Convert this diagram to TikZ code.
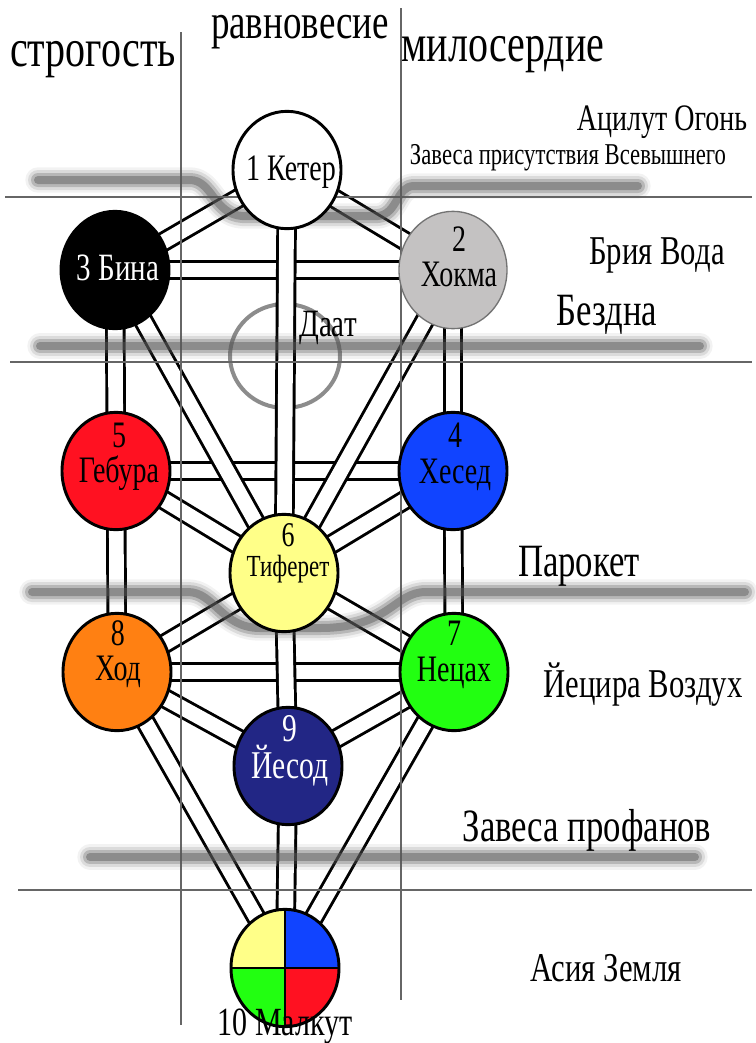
\documentclass[tikz,border=0pt]{standalone}
\usepackage{fontspec}
\setmainfont{Liberation Serif}[FakeStretch=0.75]
\usetikzlibrary{shapes.geometric}
\definecolor{sefgray}{HTML}{C4C2C2}
\definecolor{sefred}{HTML}{FF1121}
\definecolor{sefblue}{HTML}{1144FF}
\definecolor{sefyellow}{HTML}{FFFF88}
\definecolor{seforange}{HTML}{FF8012}
\definecolor{sefgreen}{HTML}{22FF11}
\definecolor{sefnavy}{HTML}{222685}
\pgfdeclarelayer{bg}
\pgfsetlayers{bg,main}
\newcommand{\fsz}[1]{\fontsize{#1}{0.95\dimexpr#1pt\relax}\selectfont}
\newcommand{\veilline}[1]{\foreach \w/\o in {19/0.08,15/0.15,10.5/0.28,6/0.45}{\draw[veil,line width=\w pt,opacity=\o] #1;}}
\tikzset{
    sefira/.style={ellipse,draw=black,line width=2.2pt,minimum width=81pt,minimum height=88pt,inner sep=0pt},
    pathway/.style={draw=black,line width=2.2pt,double=white,double distance=11pt},
    divider/.style={draw=black!60,line width=0.8pt},
    veil/.style={draw=black!65,line cap=round,line join=round},
    lbl/.style={inner sep=0pt,align=center},
}
\begin{document}
\begin{tikzpicture}[x=0.75pt,y=-0.75pt]
    \useasboundingbox (0,0) rectangle (756,1043);
    % sefirot
    \node[sefira,fill=white] (keter) at (287,170) {};
    \node[sefira,fill=black] (bina) at (115,270) {};
    \node[sefira,fill=sefgray,draw=black!55,line width=1pt] (chokmah) at (453,270) {};
    \node[sefira,fill=sefred] (geburah) at (116,471) {};
    \node[sefira,fill=sefblue] (chesed) at (453,471) {};
    \node[sefira,fill=sefyellow] (tiferet) at (284,573) {};
    \node[sefira,fill=seforange] (hod) at (117,672) {};
    \node[sefira,fill=sefgreen] (netzach) at (454,672) {};
    \node[sefira,fill=sefnavy] (yesod) at (288,766) {};
    \node[sefira,path picture={
        \fill[sefyellow] (path picture bounding box.north west) rectangle (path picture bounding box.center);
        \fill[sefblue] (path picture bounding box.north east) rectangle (path picture bounding box.center);
        \fill[sefgreen] (path picture bounding box.south west) rectangle (path picture bounding box.center);
        \fill[sefred] (path picture bounding box.south east) rectangle (path picture bounding box.center);
        \draw[line width=2.2pt] (path picture bounding box.north) -- (path picture bounding box.south)
            (path picture bounding box.west) -- (path picture bounding box.east);
    }] (malkut) at (285,968) {};

    \begin{pgfonlayer}{bg}
        \draw[draw=black!45,line width=3pt] (285,356) ellipse [x radius=55, y radius=52];
        % paths
        \foreach \a/\b in {bina/chokmah,geburah/chesed,hod/netzach,
                bina/geburah,geburah/hod,chokmah/chesed,chesed/netzach,
                keter/bina,keter/chokmah,bina/tiferet,chokmah/tiferet,
                geburah/tiferet,chesed/tiferet,tiferet/hod,tiferet/netzach,
                hod/yesod,netzach/yesod,hod/malkut,netzach/malkut,
                keter/tiferet,tiferet/yesod,yesod/malkut}
            \draw[pathway] (\a.center) -- (\b.center);
        % pillars and worlds
        \draw[divider] (181,32) -- (181,1025);
        \draw[divider] (401,8) -- (401,1000);
        \draw[divider] (5,197) -- (752,197);
        \draw[divider] (10,362) -- (752,362);
        \draw[divider] (18,890) -- (752,890);
        % veils
        \veilline{(38,180) -- (190,180) .. controls (212,180) and (214,214) .. (242,216) -- (378,216) .. controls (398,214) and (396,186) .. (414,186) -- (638,186)}
        \veilline{(40,346) -- (700,346)}
        \veilline{(32,592) -- (188,592) .. controls (214,592) and (222,628) .. (260,628) -- (320,628) .. controls (390,628) and (394,592) .. (426,592) -- (745,592)}
        \veilline{(90,857) -- (695,857)}
    \end{pgfonlayer}

    % names
    \node[lbl,font=\fsz{28}] (keter-t) at (291,172) {1 Кетер};
    \node[lbl,font=\fsz{29}, text=white] (bina-t) at (118,268) {3 Бина};
    \node[lbl,font=\fsz{28}] (chokmah-t) at (459,257) {2\\Хокма};
    \node[lbl,font=\fsz{28}] (geburah-t) at (119,457) {5\\Гебура};
    \node[lbl,font=\fsz{28}] (chesed-t) at (455,457) {4\\Хесед};
    \node[lbl,font=\fsz{26}] (tiferet-n) at (288,535) {6};
    \node[lbl,font=\fsz{23}] (tiferet-t) at (288,569) {Тиферет};
    \node[lbl,font=\fsz{28}] (hod-t) at (118,654) {8\\Ход};
    \node[lbl,font=\fsz{28}] (netzach-t) at (454,655) {7\\Нецах};
    \node[lbl,font=\fsz{29.5},text=white] (yesod-t) at (290,751) {9\\Йесод};
    \node[lbl,font=\fsz{30}] (malkut-t) at (285,1027) {10 Малкут};
    \node[lbl,font=\fsz{29}] (daat-t) at (328,328) {Даат};

    \node[lbl,font=\fsz{40}] (severity) at (93,60) {строгость};
    \node[lbl,font=\fsz{37}] (balance) at (300,32) {равновесие};
    \node[lbl,font=\fsz{40}] (mercy) at (503,55) {милосердие};
    \node[lbl,font=\fsz{28}] (atzilut) at (662,122) {Ацилут Огонь};
    \node[lbl,font=\fsz{22.7}] (veil1) at (568,158) {Завеса присутствия Всевышнего};
    \node[lbl,font=\fsz{30.7}] (beriah) at (657,255) {Брия Вода};
    \node[lbl,font=\fsz{34.7}] (abyss) at (607,315) {Бездна};
    \node[lbl,font=\fsz{34.7}] (parochet) at (579,566) {Парокет};
    \node[lbl,font=\fsz{30.7}] (yetzirah) at (643,685) {Йецира Воздух};
    \node[lbl,font=\fsz{34.7}] (veil2) at (587,830) {Завеса профанов};
    \node[lbl,font=\fsz{30.7}] (assiah) at (606,968) {Асия Земля};
\end{tikzpicture}
\end{document}
